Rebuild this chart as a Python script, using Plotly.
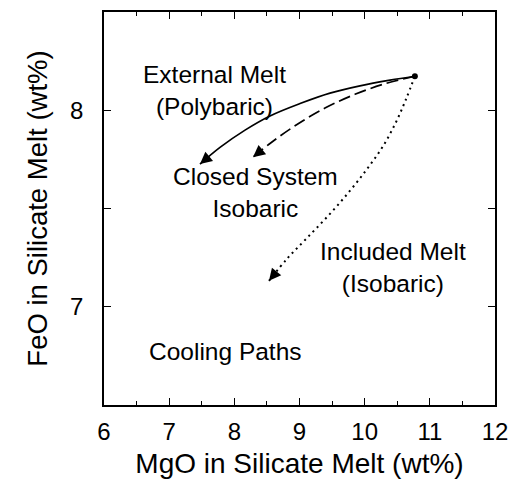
import plotly.graph_objects as go

# Cooling paths of a basaltic melt, MgO vs FeO (wt%)
start_mgo = [10.77]
start_feo = [8.173]

external_mgo = [10.77, 10.389, 9.928, 9.468, 9.008, 8.547, 8.164, 7.78, 7.473]
external_feo = [8.173, 8.153, 8.124, 8.087, 8.034, 7.971, 7.899, 7.811, 7.726]

closed_mgo = [10.77, 10.312, 9.851, 9.391, 8.931, 8.547, 8.286]
closed_feo = [8.173, 8.135, 8.081, 8.011, 7.921, 7.831, 7.761]

included_mgo = [10.77, 10.634, 10.48, 10.281, 10.036, 9.759, 9.437, 9.10, 8.808, 8.532]
included_feo = [8.173, 8.056, 7.939, 7.817, 7.701, 7.584, 7.462, 7.345, 7.244, 7.132]

label_text = ["External Melt<br>(Polybaric)", "Closed System<br>Isobaric",
              "Included Melt<br>(Isobaric)", "Cooling Paths"]
label_mgo = [7.70, 8.33, 10.43, 7.86]
label_feo = [8.10, 7.58, 7.20, 6.77]

x_ticks = [6, 7, 8, 9, 10, 11, 12]
y_ticks = [7, 8]

FONT = "Liberation Sans, Arial, Helvetica, sans-serif"

fig = go.Figure()

paths = [
    (external_mgo, external_feo, "solid", 1.7),
    (closed_mgo, closed_feo, "12px,5px", 1.7),
    (included_mgo, included_feo, "2px,4px", 2.0),
]

for xs, ys, dash, w in paths:
    fig.add_trace(go.Scatter(
        x=xs, y=ys, mode="lines", line_shape="spline",
        line=dict(color="black", width=w, dash=dash),
        showlegend=False, hoverinfo="skip"))
    # arrowhead at the end of each path, oriented along the last segment
    tail_x = xs[-1] + 0.35 * (xs[-2] - xs[-1])
    tail_y = ys[-1] + 0.35 * (ys[-2] - ys[-1])
    fig.add_annotation(
        x=xs[-1], y=ys[-1], ax=tail_x, ay=tail_y,
        xref="x", yref="y", axref="x", ayref="y",
        text="", showarrow=True, arrowhead=2, arrowsize=1.5,
        arrowwidth=1.6, arrowcolor="black")

fig.add_trace(go.Scatter(
    x=start_mgo, y=start_feo, mode="markers",
    marker=dict(color="black", size=6),
    showlegend=False, hoverinfo="skip"))

for t, lx, ly in zip(label_text, label_mgo, label_feo):
    fig.add_annotation(x=lx, y=ly, xref="x", yref="y", text=t,
                       showarrow=False, align="center",
                       font=dict(family=FONT, size=24.5, color="black"))

axis_common = dict(
    showline=True, linecolor="black", linewidth=1.5, mirror="allticks",
    ticks="inside", ticklen=7, tickwidth=1.2, tickcolor="black",
    showgrid=False, zeroline=False, automargin=False,
    tickfont=dict(family=FONT, size=24, color="black"),
)

fig.update_xaxes(
    range=[6, 12], tickvals=x_ticks, ticktext=[str(v) for v in x_ticks],
    minor=dict(dtick=0.5, tick0=6, ticks="inside", ticklen=4,
               tickcolor="black", tickwidth=1.2, showgrid=False),
    ticklabelstandoff=4,
    title=dict(text="MgO in Silicate Melt (wt%)",
               font=dict(family=FONT, size=28, color="black"), standoff=10),
    **axis_common)

fig.update_yaxes(
    range=[6.5, 8.5], tickvals=y_ticks, ticktext=[str(v) for v in y_ticks],
    minor=dict(dtick=0.5, tick0=6.5, ticks="inside", ticklen=7,
               tickcolor="black", tickwidth=1.2, showgrid=False),
    ticklabelstandoff=14,
    title=dict(text="FeO in Silicate Melt (wt%)",
               font=dict(family=FONT, size=27.5, color="black"), standoff=14),
    **axis_common)

fig.update_layout(
    width=509, height=479,
    margin=dict(l=104, r=14, t=12, b=74),
    plot_bgcolor="white", paper_bgcolor="white",
    font=dict(family=FONT, color="black"),
)

fig.write_html("out.html")
